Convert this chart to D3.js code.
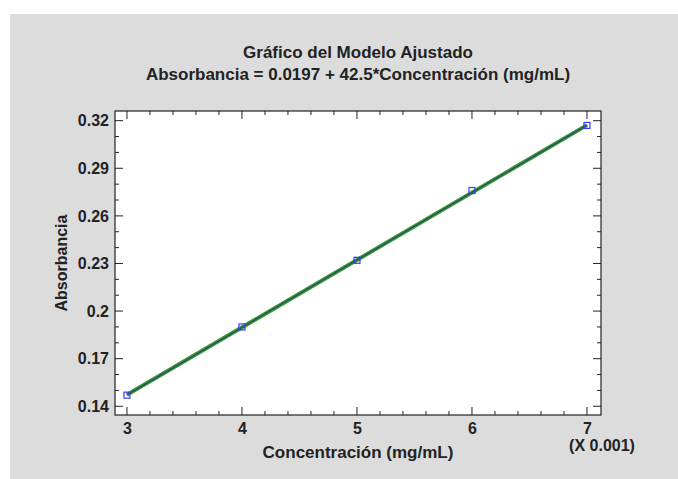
<!DOCTYPE html>
<html>
<head>
<meta charset="utf-8">
<script src="https://cdn.jsdelivr.net/npm/d3@7"></script>
<style>
  body { margin: 0; background: #fff; }
  text { font-family: "Liberation Sans", Arial, sans-serif; font-weight: bold; fill: #222; }
</style>
</head>
<body>
<script>
// datos (concentración en mg/mL, absorbancia)
const concentracion = [0.003, 0.004, 0.005, 0.006, 0.007]
const absorbancia = [0.147, 0.190, 0.232, 0.276, 0.317]
const intercepto = 0.0197
const pendiente = 42.5
const xTicks = [3, 4, 5, 6, 7]
const yTicks = [0.14, 0.17, 0.2, 0.23, 0.26, 0.29, 0.32]

const width = 678
const height = 479
const margin = { top: 111, right: 77, bottom: 64, left: 115 }
const fs = 16

const svg = d3.select('body').append('svg')
  .attr('width', width)
  .attr('height', height)

svg.append('rect')
  .attr('x', 10).attr('y', 14)
  .attr('width', width - 10).attr('height', height - 14)
  .attr('fill', '#dcdcdc')

// escalas (eje x en unidades x 0.001)
const x = d3.scaleLinear().domain([2.896, 7.122]).range([margin.left, width - margin.right])
const y = d3.scaleLinear().domain([0.1345, 0.3261]).range([height - margin.bottom, margin.top])

const pBottom = height - margin.bottom
const pTop = margin.top
const pLeft = margin.left
const pRight = width - margin.right

svg.append('rect')
  .attr('x', pLeft).attr('y', pTop)
  .attr('width', pRight - pLeft)
  .attr('height', pBottom - pTop)
  .attr('fill', '#fff')

const xMinor = d3.range(3, 7.01, 0.2)
const yMinor = d3.range(0.14, 0.3201, 0.01)

// ejes con marcas hacia dentro
svg.append('g').attr('transform', `translate(0,${pBottom})`)
  .call(d3.axisBottom(x).tickValues(xTicks).tickSize(0).tickPadding(8).tickFormat(d3.format('d')))
  .call(g => g.select('.domain').remove())
  .call(g => g.selectAll('text').attr('font-size', fs))

svg.append('g').attr('transform', `translate(${pLeft},0)`)
  .call(d3.axisLeft(y).tickValues(yTicks).tickSize(0).tickPadding(6).tickFormat(d => String(+d.toFixed(2))))
  .call(g => g.select('.domain').remove())
  .call(g => g.selectAll('text').attr('font-size', fs))

const ticks = svg.append('g').attr('stroke', '#222').attr('stroke-width', 1)
xMinor.forEach((v, i) => {
  const len = (i % 5 === 0) ? 8 : 4
  ticks.append('line').attr('x1', x(v)).attr('x2', x(v)).attr('y1', pBottom).attr('y2', pBottom - len)
  ticks.append('line').attr('x1', x(v)).attr('x2', x(v)).attr('y1', pTop).attr('y2', pTop + len)
})
yMinor.forEach((v, i) => {
  const len = (i % 3 === 0) ? 8 : 4
  ticks.append('line').attr('x1', pLeft).attr('x2', pLeft + len).attr('y1', y(v)).attr('y2', y(v))
  ticks.append('line').attr('x1', pRight).attr('x2', pRight - len).attr('y1', y(v)).attr('y2', y(v))
})

svg.append('rect')
  .attr('x', pLeft).attr('y', pTop)
  .attr('width', pRight - pLeft).attr('height', pBottom - pTop)
  .attr('fill', 'none').attr('stroke', '#222').attr('stroke-width', 1.2)

// recta ajustada
const xs = [concentracion[0], concentracion[concentracion.length - 1]]
const fit = d3.line().x(d => x(d * 1000)).y(d => y(intercepto + pendiente * d))
svg.append('path').datum(xs).attr('d', fit)
  .attr('stroke', '#3f9a2e').attr('stroke-width', 4).attr('fill', 'none')
svg.append('path').datum(xs).attr('d', fit)
  .attr('stroke', '#1f4f6f').attr('stroke-width', 1.3).attr('fill', 'none')

// puntos observados
svg.append('g').selectAll('rect')
  .data(concentracion)
  .join('rect')
  .attr('x', d => x(d * 1000) - 3)
  .attr('y', (d, i) => y(absorbancia[i]) - 3)
  .attr('width', 6).attr('height', 6)
  .attr('fill', 'none').attr('stroke', '#3b3bff').attr('stroke-width', 1.2)

// textos
const cx = (pLeft + pRight) / 2
svg.append('text').attr('x', cx).attr('y', 58).attr('text-anchor', 'middle')
  .attr('font-size', 17).text('Gráfico del Modelo Ajustado')
svg.append('text').attr('x', cx).attr('y', 80).attr('text-anchor', 'middle')
  .attr('font-size', 17).text('Absorbancia = 0.0197 + 42.5*Concentración (mg/mL)')
svg.append('text').attr('x', cx).attr('y', 458).attr('text-anchor', 'middle')
  .attr('font-size', 17).text('Concentración (mg/mL)')
svg.append('text').attr('transform', `translate(67,${(pTop + pBottom) / 2}) rotate(-90)`)
  .attr('text-anchor', 'middle').attr('font-size', fs).text('Absorbancia')
svg.append('text').attr('x', 602).attr('y', 451).attr('text-anchor', 'middle')
  .attr('font-size', fs).text('(X 0.001)')
</script>
</body>
</html>
